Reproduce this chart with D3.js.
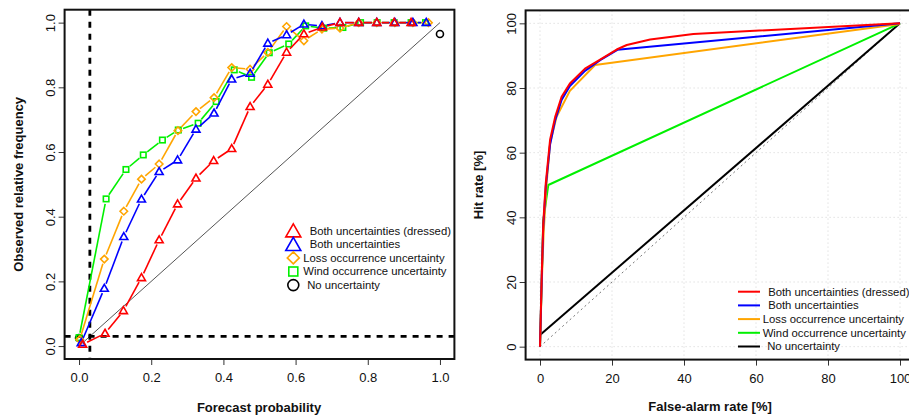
<!DOCTYPE html>
<html lang="en">
<head>
  <meta charset="utf-8">
  <title>Reliability and ROC</title>
  <script src="https://d3js.org/d3.v7.min.js"></script>
  <style>
    body { margin: 0; background: #fff; }
    text { font-family: "Liberation Sans", Arial, sans-serif; fill: #111; }
    .lab { white-space: pre; }
  </style>
</head>
<body>
<div id="chart"></div>
<script>
  // ---- data: reliability diagram (left) ----
  var seriesNames = [" Both uncertainties (dressed)", " Both uncertainties", "Loss occurrence uncertainty", "Wind occurrence uncertainty", " No uncertainty"];
  var seriesColors = ["#ff0000", "#0000ff", "#ffa500", "#00f000", "#000000"];

  var dressedX = [0.01, 0.072, 0.123, 0.173, 0.222, 0.273, 0.324, 0.373, 0.423, 0.474, 0.523, 0.575, 0.623, 0.674, 0.723, 0.775, 0.825, 0.873, 0.92];
  var dressedY = [0.005, 0.039, 0.109, 0.211, 0.328, 0.439, 0.519, 0.573, 0.61, 0.74, 0.809, 0.908, 0.965, 0.986, 1, 1, 1, 1, 1];
  var bothX = [0.006, 0.070, 0.124, 0.173, 0.222, 0.273, 0.324, 0.374, 0.423, 0.474, 0.523, 0.575, 0.623, 0.673, 0.723, 0.775, 0.825, 0.875, 0.925, 0.962];
  var bothY = [0.01, 0.178, 0.338, 0.454, 0.539, 0.575, 0.67, 0.72, 0.825, 0.843, 0.936, 0.962, 0.995, 0.99, 1, 1, 1, 1, 1, 1];
  var lossX = [0.002, 0.070, 0.124, 0.173, 0.222, 0.274, 0.324, 0.374, 0.423, 0.474, 0.523, 0.575, 0.623, 0.673, 0.723, 0.775, 0.825, 0.875, 0.925, 0.968];
  var lossY = [0.02, 0.269, 0.417, 0.516, 0.563, 0.666, 0.725, 0.768, 0.861, 0.856, 0.908, 0.988, 0.944, 0.98, 0.983, 1, 1, 1, 1, 1];
  var windX = [0.0, 0.075, 0.130, 0.178, 0.231, 0.275, 0.330, 0.380, 0.430, 0.478, 0.527, 0.581, 0.628, 0.678, 0.731, 0.78, 0.826, 0.873, 0.92, 0.96];
  var windY = [0.026, 0.455, 0.546, 0.591, 0.637, 0.668, 0.689, 0.756, 0.854, 0.831, 0.907, 0.934, 0.990, 0.983, 0.985, 1, 1, 1, 1, 1];
  var noneX = [0.0, 1.0];
  var noneY = [0.025, 0.965];
  var threshold = 0.03;
  var relTicks = [0, 0.2, 0.4, 0.6, 0.8, 1.0];

  // ---- data: ROC curves (right) ----
  var rocDressedX = [0, 0.5, 0.9, 1.6, 2.8, 4.2, 6, 8.3, 12.5, 16.7, 21.3, 24.1, 30.6, 42.6, 100];
  var rocDressedY = [0, 23, 38, 50.5, 64, 71, 77.3, 81.4, 86, 88.8, 91.9, 93.3, 95, 96.7, 100];
  var rocBothX = [0, 0.5, 0.9, 1.6, 2.8, 4.2, 6, 8.3, 12.5, 16.7, 21.5, 100];
  var rocBothY = [0, 22, 37, 49.5, 62.5, 70, 76.3, 80.6, 85.3, 88.6, 91.8, 100];
  var rocLossX = [0, 0.5, 1, 1.8, 2.8, 4.6, 8.3, 15.3, 100];
  var rocLossY = [0, 20, 35, 50, 62.9, 71.1, 79.1, 87.1, 99.8];
  var rocWindX = [0, 0.9, 2.3, 100];
  var rocWindY = [0, 39, 50, 100];
  var rocNoneX = [0, 100];
  var rocNoneY = [3.6, 100];
  var rocTicks = [0, 20, 40, 60, 80, 100];

  var svg = d3.select("#chart").append("svg")
    .attr("width", 909)
    .attr("height", 415);

  function styleAxes(xa, ya) {
    [xa, ya].forEach(function(a) {
      a.select(".domain").remove();
      a.selectAll("line").attr("stroke", "#333");
      a.selectAll("text").attr("font-size", "13px").attr("fill", "#222")
        .attr("font-family", "Liberation Sans, Arial, sans-serif");
    });
    // R style: y labels parallel to the axis
    ya.selectAll("text")
      .attr("x", -14).attr("y", 0).attr("dy", "0.35em")
      .attr("text-anchor", "middle")
      .attr("transform", "rotate(-90,-14,0)");
  }

  // ================= left panel =================
  var x = d3.scaleLinear().domain([-0.04, 1.04]).range([64.6, 454.4]);
  var y = d3.scaleLinear().domain([-0.04, 1.04]).range([359, 9.7]);

  var left = svg.append("g");

  var xAxis = left.append("g")
    .attr("transform", "translate(0," + 359 + ")")
    .call(d3.axisBottom(x).tickValues(relTicks).tickFormat(d3.format(".1f")).tickSize(6).tickPadding(8));
  var yAxis = left.append("g")
    .attr("transform", "translate(" + 64.6 + ",0)")
    .call(d3.axisLeft(y).tickValues(relTicks).tickFormat(d3.format(".1f")).tickSize(6).tickPadding(8));
  styleAxes(xAxis, yAxis);

  // diagonal
  left.append("line")
    .attr("x1", x(0)).attr("y1", y(0)).attr("x2", x(1)).attr("y2", y(1))
    .attr("stroke", "#555").attr("stroke-width", 1);

  // threshold dashed lines
  left.append("line")
    .attr("x1", x(threshold)).attr("x2", x(threshold)).attr("y1", y(1.04)).attr("y2", y(-0.04))
    .attr("stroke", "#000").attr("stroke-width", 2.8).attr("stroke-dasharray", "6,6");
  left.append("line")
    .attr("x1", x(-0.04)).attr("x2", x(1.04)).attr("y1", y(threshold)).attr("y2", y(threshold))
    .attr("stroke", "#000").attr("stroke-width", 2.8).attr("stroke-dasharray", "6,6");

  // type "b" lines: segments with gaps round the points
  function gapSegments(xs, ys, gap) {
    var segs = [];
    for (var i = 0; i < xs.length - 1; i++) {
      var x1 = x(xs[i]), y1 = y(ys[i]), x2 = x(xs[i + 1]), y2 = y(ys[i + 1]);
      var dx = x2 - x1, dy = y2 - y1, len = Math.sqrt(dx * dx + dy * dy);
      if (len <= 2 * gap) continue;
      var ux = dx / len, uy = dy / len;
      segs.push([x1 + ux * gap, y1 + uy * gap, x2 - ux * gap, y2 - uy * gap]);
    }
    return segs;
  }

  function marker(g, type, cx, cy, s, color, sw) {
    if (type === "tri") {
      var h = s * 0.87;
      g.append("path")
        .attr("d", "M" + cx + "," + (cy - h * 0.6) + "L" + (cx + s / 2) + "," + (cy + h * 0.4) + "L" + (cx - s / 2) + "," + (cy + h * 0.4) + "Z")
        .attr("fill", "none").attr("stroke", color).attr("stroke-width", sw);
    } else if (type === "dia") {
      var r = s / 2;
      g.append("path")
        .attr("d", "M" + cx + "," + (cy - r) + "L" + (cx + r) + "," + cy + "L" + cx + "," + (cy + r) + "L" + (cx - r) + "," + cy + "Z")
        .attr("fill", "none").attr("stroke", color).attr("stroke-width", sw);
    } else if (type === "sq") {
      g.append("rect")
        .attr("x", cx - s / 2).attr("y", cy - s / 2).attr("width", s).attr("height", s)
        .attr("fill", "none").attr("stroke", color).attr("stroke-width", sw);
    } else {
      g.append("circle")
        .attr("cx", cx).attr("cy", cy).attr("r", s / 2)
        .attr("fill", "none").attr("stroke", color).attr("stroke-width", sw);
    }
  }

  var relSeries = [
    { xs: noneX, ys: noneY, type: "circ", color: seriesColors[4], size: 7, line: false },
    { xs: windX, ys: windY, type: "sq", color: seriesColors[3], size: 5.5, line: true },
    { xs: lossX, ys: lossY, type: "dia", color: seriesColors[2], size: 7.5, line: true },
    { xs: bothX, ys: bothY, type: "tri", color: seriesColors[1], size: 8, line: true },
    { xs: dressedX, ys: dressedY, type: "tri", color: seriesColors[0], size: 8, line: true }
  ];

  relSeries.forEach(function(s) {
    var g = left.append("g");
    if (s.line) {
      g.selectAll("line").data(gapSegments(s.xs, s.ys, 5)).enter().append("line")
        .attr("x1", function(d) { return d[0]; }).attr("y1", function(d) { return d[1]; })
        .attr("x2", function(d) { return d[2]; }).attr("y2", function(d) { return d[3]; })
        .attr("stroke", s.color).attr("stroke-width", 1.6);
    }
    s.xs.forEach(function(v, i) {
      marker(g, s.type, x(v), y(s.ys[i]), s.size, s.color, 1.6);
    });
  });

  // box
  left.append("rect")
    .attr("x", 64.6).attr("y", 9.7).attr("width", 454.4 - 64.6).attr("height", 359 - 9.7)
    .attr("fill", "none").attr("stroke", "#111").attr("stroke-width", 2);

  // legend
  var legTypes = ["tri", "tri", "dia", "sq", "circ"];
  var legSizes = [15, 15, 12, 9, 11];
  var legX = [310.5, 310.5, 307.3, 307.3, 308];
  seriesNames.forEach(function(name, i) {
    var cy = 230.7 + i * 13.6;
    marker(left, legTypes[i], 293.3, cy + (legTypes[i] === "tri" ? 1 : 0), legSizes[i], seriesColors[i], 1.6);
    left.append("text").attr("class", "lab")
      .attr("x", legX[i] - 4).attr("y", cy).attr("dy", "0.35em")
      .attr("font-size", "11.3px").text(name);
  });

  left.append("text")
    .attr("x", 259).attr("y", 407).attr("dy", "0.35em")
    .attr("text-anchor", "middle").attr("font-weight", "bold").attr("font-size", "13px")
    .text("Forecast probability");
  left.append("text")
    .attr("transform", "translate(18," + y(0.5) + ") rotate(-90)")
    .attr("dy", "0.35em")
    .attr("text-anchor", "middle").attr("font-weight", "bold").attr("font-size", "13px")
    .text("Observed relative frequency");

  // ================= right panel =================
  var rx = d3.scaleLinear().domain([-4, 104]).range([525.6, 914.4]);
  var ry = d3.scaleLinear().domain([-4, 104]).range([359.6, 10.4]);

  var right = svg.append("g");

  // grid
  right.selectAll(".gx").data(rocTicks).enter().append("line")
    .attr("x1", function(d) { return rx(d); }).attr("x2", function(d) { return rx(d); })
    .attr("y1", ry(-4)).attr("y2", ry(104))
    .attr("stroke", "#d3d3d3").attr("stroke-dasharray", "1,3");
  right.selectAll(".gy").data(rocTicks).enter().append("line")
    .attr("y1", function(d) { return ry(d); }).attr("y2", function(d) { return ry(d); })
    .attr("x1", rx(-4)).attr("x2", rx(104))
    .attr("stroke", "#d3d3d3").attr("stroke-dasharray", "1,3");

  var rxAxis = right.append("g")
    .attr("transform", "translate(0," + 359.6 + ")")
    .call(d3.axisBottom(rx).tickValues(rocTicks).tickSize(6).tickPadding(8));
  var ryAxis = right.append("g")
    .attr("transform", "translate(" + 525.6 + ",0)")
    .call(d3.axisLeft(ry).tickValues(rocTicks).tickSize(6).tickPadding(8));
  styleAxes(rxAxis, ryAxis);

  // reference diagonal
  right.append("line")
    .attr("x1", rx(0)).attr("y1", ry(0)).attr("x2", rx(100)).attr("y2", ry(100))
    .attr("stroke", "#777").attr("stroke-width", 1).attr("stroke-dasharray", "2,3");

  var line = d3.line()
    .x(function(d) { return rx(d[0]); })
    .y(function(d) { return ry(d[1]); });

  var rocSeries = [
    { xs: rocNoneX, ys: rocNoneY, color: seriesColors[4] },
    { xs: rocWindX, ys: rocWindY, color: seriesColors[3] },
    { xs: rocLossX, ys: rocLossY, color: seriesColors[2] },
    { xs: rocBothX, ys: rocBothY, color: seriesColors[1] },
    { xs: rocDressedX, ys: rocDressedY, color: seriesColors[0] }
  ];
  rocSeries.forEach(function(s) {
    var pts = s.xs.map(function(v, i) { return [v, s.ys[i]]; });
    right.append("path")
      .attr("d", line(pts))
      .attr("fill", "none").attr("stroke", s.color).attr("stroke-width", 2)
      .attr("stroke-linejoin", "round");
  });

  right.append("rect")
    .attr("x", 525.6).attr("y", 10.4).attr("width", 914.4 - 525.6).attr("height", 359.6 - 10.4)
    .attr("fill", "none").attr("stroke", "#111").attr("stroke-width", 2);

  // legend
  var rLegX = [768, 768, 765.7, 765.7, 767];
  seriesNames.forEach(function(name, i) {
    var cy = 291.7 + i * 13.7;
    right.append("line")
      .attr("x1", 738).attr("x2", 760).attr("y1", cy).attr("y2", cy)
      .attr("stroke", seriesColors[i]).attr("stroke-width", 2);
    right.append("text").attr("class", "lab")
      .attr("x", rLegX[i] - 3).attr("y", cy).attr("dy", "0.35em")
      .attr("font-size", "11.3px").text(name);
  });

  right.append("text")
    .attr("x", 710).attr("y", 406).attr("dy", "0.35em")
    .attr("text-anchor", "middle").attr("font-weight", "bold").attr("font-size", "13px")
    .text("False-alarm rate [%]");
  right.append("text")
    .attr("transform", "translate(478," + ry(50) + ") rotate(-90)")
    .attr("dy", "0.35em")
    .attr("text-anchor", "middle").attr("font-weight", "bold").attr("font-size", "13px")
    .text("Hit rate [%]");
</script>
</body>
</html>
